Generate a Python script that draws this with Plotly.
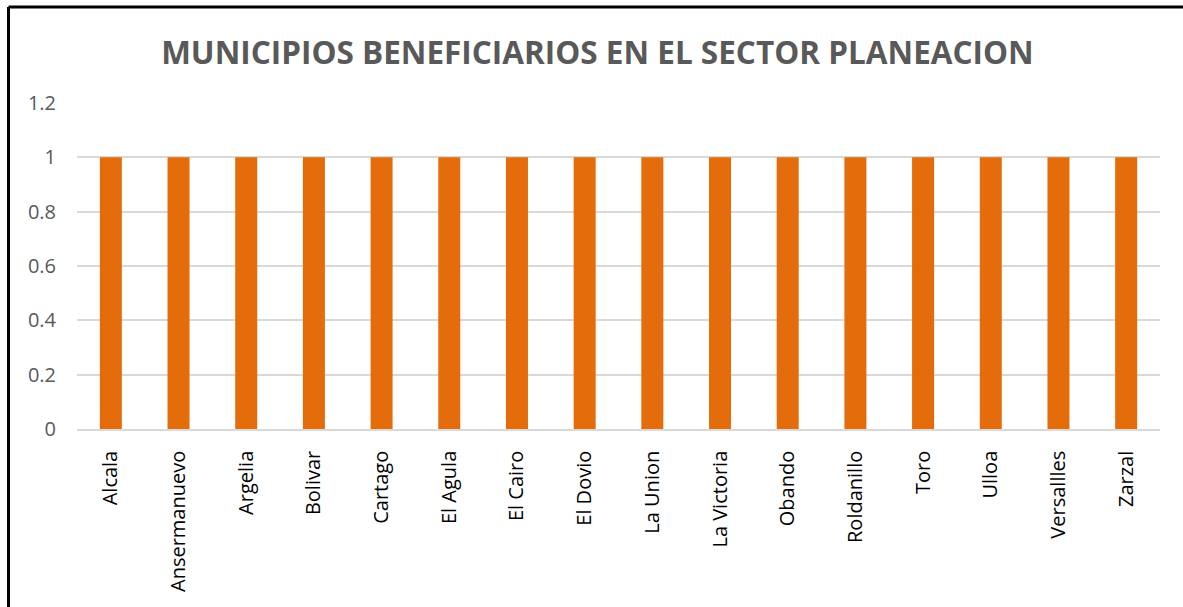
import plotly.graph_objects as go

municipios = ["Alcala", "Ansermanuevo", "Argelia", "Bolivar", "Cartago", "El Agula",
              "El Cairo", "El Dovio", "La Union", "La Victoria", "Obando", "Roldanillo",
              "Toro", "Ulloa", "Versallles", "Zarzal"]
valores = [1] * 16
y_ticks = [0, 0.2, 0.4, 0.6, 0.8, 1, 1.2]
y_tick_text = ["0", "0.2", "0.4", "0.6", "0.8", "1", "1.2"]

W, H = 1183, 607
L, R, T, B = 77, 23, 103, 178
pw, ph = W - L - R, H - T - B

fig = go.Figure(go.Bar(x=municipios, y=valores, marker=dict(color="#E46C0A", line=dict(width=0))))

fig.update_layout(
    width=W, height=H,
    margin=dict(l=L, r=R, t=T, b=B),
    paper_bgcolor="white", plot_bgcolor="white",
    bargap=0.675,
    showlegend=False,
    title=dict(text="<b>MUNICIPIOS BENEFICIARIOS EN EL SECTOR PLANEACION</b>",
               x=0.505, xanchor="center", y=1 - 53 / H, yanchor="middle",
               font=dict(family="Open Sans, sans-serif", size=31.5, color="#595959")),
    xaxis=dict(tickangle=-90, tickfont=dict(family="Open Sans", size=20, color="#000000"),
               showgrid=False, showline=True, linecolor="#d9d9d9", linewidth=1.5,
               ticklabelstandoff=12),
    yaxis=dict(range=[0, 1.2], tickvals=y_ticks, ticktext=y_tick_text,
               tickfont=dict(family="Open Sans", size=20, color="#595959"),
               showgrid=True, gridcolor="#d9d9d9", gridwidth=1.5, zeroline=False,
               ticklabelstandoff=20),
)

# outer chart border (partially visible frame)
x0 = (8.5 - L) / pw
y1 = 1 + (T - 7) / ph
fig.add_shape(type="line", xref="paper", yref="paper", x0=x0, x1=x0, y0=-B / ph - 0.05, y1=y1,
              line=dict(color="black", width=3))
fig.add_shape(type="line", xref="paper", yref="paper", x0=x0, x1=1 + R / pw + 0.05, y0=y1, y1=y1,
              line=dict(color="black", width=3))

fig.write_html("out.html", config={"displayModeBar": False},
               post_script="document.body.style.margin='0';document.body.style.overflow='hidden';")
